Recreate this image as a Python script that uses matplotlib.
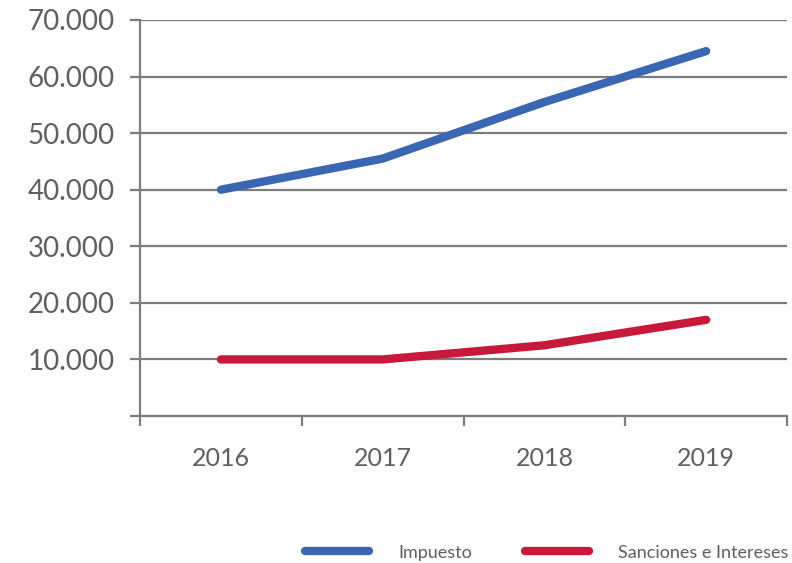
import numpy as np
import matplotlib.pyplot as plt

# recaudacion por año

years = ['2016', '2017', '2018', '2019']
impuesto = [40000, 45500, 55500, 64500]
sanciones = [10000, 10000, 12500, 17000]
yticks = [0, 10000, 20000, 30000, 40000, 50000, 60000, 70000]
ytick_labels = ['', '10.000', '20.000', '30.000', '40.000', '50.000', '60.000', '70.000']

plt.rcParams['font.family'] = ['Lato', 'DejaVu Sans']
grey = '#7d7d7d'
text_grey = '#606060'

fig = plt.figure(figsize=(7.92, 5.63), dpi=100)
ax = fig.add_axes([0.1768, 0.2611, 0.8169, 0.7034])

x = np.arange(len(years))
ax.plot(x, impuesto, color='#3b66b4', lw=6, solid_capstyle='round', label='Impuesto', zorder=3)
ax.plot(x, sanciones, color='#c8193a', lw=6, solid_capstyle='round', label='Sanciones e Intereses', zorder=3)

ax.set_xlim(-0.5, 3.5)
ax.set_ylim(0, 70000)
ax.set_yticks(yticks)
ax.set_yticklabels(ytick_labels)
ax.set_xticks(np.arange(-0.5, 4.0, 1.0))
ax.set_xticklabels([])
ax.set_xticks(x, minor=True)
ax.set_xticklabels(years, minor=True)

ax.grid(axis='y', color=grey, lw=1.6)
ax.set_axisbelow(True)
for s in ['top', 'right']:
    ax.spines[s].set_visible(False)
for s in ['left', 'bottom']:
    ax.spines[s].set_color(grey)
    ax.spines[s].set_linewidth(1.6)

ax.tick_params(axis='y', length=7, width=1.6, color=grey, pad=11, labelsize=20, labelcolor=text_grey)
ax.tick_params(axis='x', which='major', length=7, width=1.6, color=grey)
ax.tick_params(axis='x', which='minor', length=0, pad=22, labelsize=18, labelcolor=text_grey)

leg = ax.legend(loc='center left', bbox_to_anchor=(0.23, -0.345), ncol=2, frameon=False,
                fontsize=13, handlelength=3.55, handletextpad=1.6, columnspacing=2.95,
                labelcolor=text_grey)

plt.savefig('out.png', dpi=100)
